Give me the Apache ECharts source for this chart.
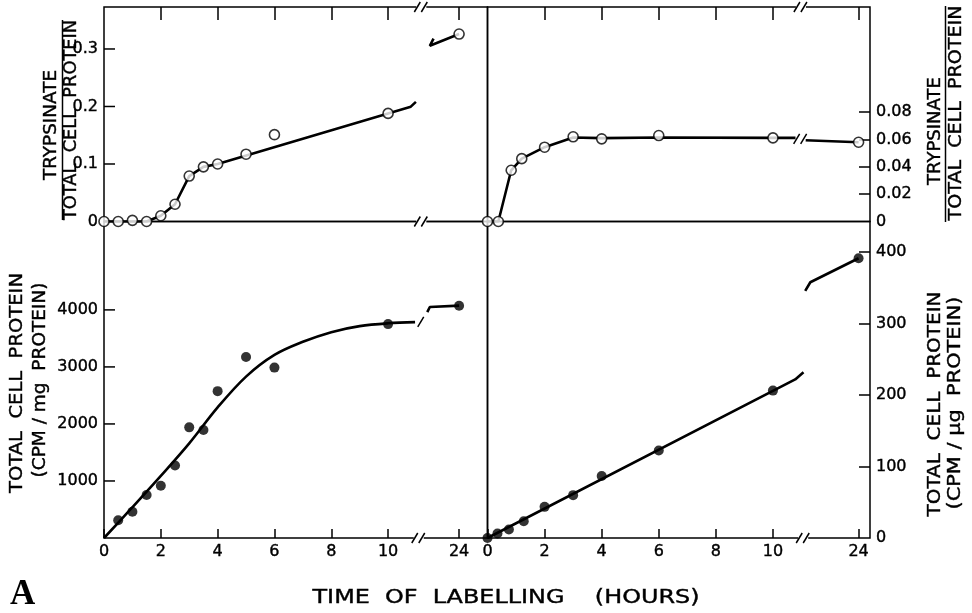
<!DOCTYPE html>
<html>
<head>
<meta charset="utf-8">
<script src="https://cdn.jsdelivr.net/npm/echarts@6/dist/echarts.min.js"></script>
<style>html,body{margin:0;padding:0;background:#fff}#c{width:972px;height:613px}</style>
</head>
<body>
<div id="c"></div>
<script>
// ---------- data ----------
const hourTickLabels = ['0','2','4','6','8','10','24'];
const hourTickHours  = [0,2,4,6,8,10,24];

// top-left: trypsinate / total cell protein (open circles)
const tlHours = [0,0.5,1,1.5,2,2.5,3,3.5,4,5,6,10,24];
const tlRatio = [0,0,0.002,0,0.01,0.03,0.079,0.095,0.1,0.117,0.151,0.188,0.326];
// top-right
const trHours = [0,0.38,0.83,1.2,2,3,4,6,10,24];
const trRatio = [0,0,0.0375,0.046,0.0544,0.062,0.0605,0.0629,0.0612,0.058];
// bottom-left: total cell protein CPM/mg protein (filled circles)
const blHours = [0.5,1,1.5,2,2.5,3,3.5,4,5,6,10,24];
const blCpm   = [312,459,753,917,1270,1940,1894,2575,3175,2988,3751,4074];
// bottom-right: total cell protein CPM/ug protein
const brHours = [0,0.35,0.75,1.27,2,3,4,6,10,24];
const brCpm   = [0,6.2,11.8,23.5,43.6,60,86.8,122.4,206.3,391.6];

// drawn curves (axis units; values beyond 10 lie in the broken part of the axis)
const tlFitA = [[0,0],[0.5,0],[1,0],[1.5,0],[2,0.01],[2.5,0.03],[3,0.079],[3.5,0.095],[4,0.1],[10.8,0.1997],[10.98,0.208]];
const tlFitB = [[11.6,0.318],[11.47,0.3056],[12.5,0.326]];
const trFitA = [[0,0],[0.38,0],[0.83,0.0375],[1.2,0.046],[2,0.0544],[3,0.0615],[4,0.061],[6,0.0615],[10,0.0612],[10.8,0.0612]];
const trFitB = [[11.13,0.0595],[13,0.058]];
const blFitA = [[0,0],[1,540],[2,1090],[3,1660],[4,2290],[5,2830],[6,3210],[7,3440],[8,3610],[9,3715],[10,3765],[10.95,3785]];
const blFitB = [[11.38,3960],[11.47,4050],[12.5,4074]];
const brFitA = [[0,0],[10.78,222],[11.07,232]];
const brFitB = [[11.13,346],[11.31,358],[13,391.6]];

const tlYTicks = [0,0.1,0.2,0.3];
const trYTicks = [0,0.02,0.04,0.06,0.08];
const blYTicks = [1000,2000,3000,4000];
const brYTicks = [0,100,200,300,400];

// ---------- layout ----------
const leftPos24 = 12.5, rightPos24 = 13;
const toPos = (h, p24) => h <= 10 ? h : p24;
const pairs = (xs, ys, p24) => xs.map((h, i) => [toPos(h, p24), ys[i]]);
const tickPos = p24 => hourTickHours.map(h => toPos(h, p24));

const FONT = 'DejaVu Sans';
const LBL = {color: '#000', fontFamily: FONT, fontSize: 16, textBorderColor: '#000', textBorderWidth: 0.4};
const chart = echarts.init(document.getElementById('c'), null, {renderer: 'canvas'});

function xAx(grid, pos, max, p24, withLabels) {
  const tp = tickPos(p24);
  return {
    type: 'value', gridIndex: grid, position: pos, min: 0, max: max,
    axisLine: {show: false, onZero: false}, splitLine: {show: false},
    axisTick: {show: true, inside: true, length: pos === 'top' ? 13 : 9,
      customValues: pos === 'top' ? tp.slice(1) : tp,
      lineStyle: {color: '#000', width: 1.5}},
    axisLabel: Object.assign({show: withLabels, customValues: tp, margin: 6,
      formatter: v => { const i = tp.findIndex(p => Math.abs(p - v) < 1e-9); return i >= 0 ? hourTickLabels[i] : ''; }}, LBL)
  };
}
// left axes: ticks drawn by a custom series (inside), labels by the axis
function yAx(grid, pos, max, ticks, labels, fmt) {
  return {
    type: 'value', gridIndex: grid, position: pos, min: 0, max: max,
    axisLine: {show: false, onZero: false}, splitLine: {show: false},
    axisTick: {show: pos === 'right', inside: true, length: 11, customValues: ticks,
      lineStyle: {color: '#000', width: 1.5}},
    axisLabel: Object.assign({show: true, customValues: labels, margin: 6, formatter: fmt}, LBL)
  };
}
function leftTicks(x, y, vals) {
  return {type: 'custom', xAxisIndex: x, yAxisIndex: y, data: vals.map(v => [0, v]), z: 5, silent: true,
    encode: {x: 0, y: 1},
    renderItem: (params, api) => {
      const p = api.coord([0, api.value(1)]);
      return {type: 'line', shape: {x1: p[0], y1: p[1], x2: p[0] + 11, y2: p[1]},
        style: {stroke: '#000', lineWidth: 1.5}};
    }};
}

function fitLine(x, y, data, smooth) {
  return {type: 'line', xAxisIndex: x, yAxisIndex: y, data: data, symbol: 'none',
    smooth: smooth || false, lineStyle: {color: '#000', width: 2.6}, z: 2, silent: true};
}
function dots(x, y, data, open) {
  return {type: 'scatter', xAxisIndex: x, yAxisIndex: y, data: data, symbol: 'circle', symbolSize: 10,
    itemStyle: open ? {color: '#fff', borderColor: '#000', borderWidth: 1.6} : {color: '#000'}, z: 4, silent: true};
}
function breaks(x, y, data) {
  return {type: 'custom', xAxisIndex: x, yAxisIndex: y, data: data, z: 6, silent: true,
    encode: {x: 0, y: 1},
    renderItem: (params, api) => {
      const p = api.coord([api.value(0), api.value(1)]);
      const n = api.value(2), clear = api.value(3);
      const ch = [];
      if (clear) ch.push({type: 'rect', shape: {x: p[0] - 5, y: p[1] - 3, width: 10, height: 6}, style: {fill: '#fff'}});
      const offs = n === 2 ? [-4, 3] : [0];
      offs.forEach(o => ch.push({type: 'line', shape: {x1: p[0] + o - 3, y1: p[1] + 5, x2: p[0] + o + 3, y2: p[1] - 5},
        style: {stroke: '#000', lineWidth: 1.5}}));
      return {type: 'group', children: ch};
    }};
}

const tlMax = 0.373, trMax = 0.157, blMax = 5550, brMax = 443;
const lMax = 13.5, rMax = 13.4;

const measure = (() => { const c = document.createElement('canvas').getContext('2d');
  return (t, font) => { c.font = font; return c.measureText(t).width; }; })();
function txt(t, cx, cy, len, size, rot) {
  const font = size + 'px "' + FONT + '"';
  const w = measure(t, font);
  return {type: 'text', x: cx, y: cy, rotation: rot ? Math.PI / 2 : 0, scaleX: len / w, silent: true,
    style: {text: t, font: font, fill: '#000', stroke: '#000', lineWidth: 0.4,
      textAlign: 'center', align: 'center', textVerticalAlign: 'middle', verticalAlign: 'middle'}};
}
const vbar = (x, y1, y2) => ({type: 'line', silent: true, shape: {x1: x, y1: y1, x2: x, y2: y2}, style: {stroke: '#000', lineWidth: 1.5}});

const gridStyle = {show: true, borderColor: '#000', borderWidth: 1.5, backgroundColor: 'transparent'};

chart.setOption({
  animation: false,
  backgroundColor: '#fff',
  grid: [
    Object.assign({left: 104, top: 7, width: 383.5, height: 214.5}, gridStyle),
    Object.assign({left: 487.5, top: 7, width: 382.5, height: 214.5}, gridStyle),
    Object.assign({left: 104, top: 221.5, width: 383.5, height: 316.5}, gridStyle),
    Object.assign({left: 487.5, top: 221.5, width: 382.5, height: 316.5}, gridStyle)
  ],
  xAxis: [
    xAx(0, 'top', lMax, leftPos24, false),
    xAx(1, 'top', rMax, rightPos24, false),
    xAx(2, 'bottom', lMax, leftPos24, true),
    xAx(3, 'bottom', rMax, rightPos24, true)
  ],
  yAxis: [
    yAx(0, 'left', tlMax, tlYTicks.slice(1), tlYTicks, v => v === 0 ? '0' : v.toFixed(1)),
    yAx(1, 'right', trMax, trYTicks.slice(1), trYTicks, v => v === 0 ? '0' : v.toFixed(2)),
    yAx(2, 'left', blMax, blYTicks, blYTicks, v => String(v)),
    yAx(3, 'right', brMax, brYTicks.slice(1), brYTicks, v => String(v))
  ],
  series: [
    fitLine(0, 0, tlFitA), fitLine(0, 0, tlFitB),
    dots(0, 0, pairs(tlHours, tlRatio, leftPos24), true),
    fitLine(1, 1, trFitA), fitLine(1, 1, trFitB),
    dots(1, 1, pairs(trHours, trRatio, rightPos24), true),
    fitLine(2, 2, blFitA, 0.35), fitLine(2, 2, blFitB),
    dots(2, 2, pairs(blHours, blCpm, leftPos24), false),
    fitLine(3, 3, brFitA), fitLine(3, 3, brFitB),
    dots(3, 3, pairs(brHours, brCpm, rightPos24), false),
    leftTicks(0, 0, tlYTicks.slice(1)),
    leftTicks(2, 2, blYTicks),
    breaks(0, 0, [[11.17, 0, 2, 1], [11.17, tlMax, 2, 1]]),
    breaks(1, 1, [[10.98, trMax, 2, 1], [10.97, 0.0605, 2, 1]]),
    breaks(2, 2, [[11.08, 0, 2, 1], [11.15, 3790, 1, 0]]),
    breaks(3, 3, [[11.06, 0, 2, 1]])
  ],
  graphic: [
    txt('TRYPSINATE', 51, 125, 110, 18, true),
    vbar(62.5, 20, 220),
    txt('TOTAL  CELL  PROTEIN', 71, 120, 200, 18, true),
    txt('TRYPSINATE', 935, 131, 108, 18, true),
    vbar(945.5, 6, 222),
    txt('TOTAL  CELL  PROTEIN', 956, 113, 215, 18, true),
    txt('TOTAL  CELL  PROTEIN', 17, 383, 220, 18, true),
    txt('(CPM / mg  PROTEIN)', 40, 380, 195, 18, true),
    txt('TOTAL  CELL  PROTEIN', 935, 404, 225, 18, true),
    txt('(CPM / μg  PROTEIN)', 955, 403, 213, 18, true),
    txt('TIME  OF  LABELLING    (HOURS)', 506, 598, 387, 19, false),
    {type: 'text', x: 10, y: 595, silent: true,
      style: {text: 'A', font: 'bold 35px "Liberation Serif"', fill: '#000', textAlign: 'left', align: 'left',
        textVerticalAlign: 'middle', verticalAlign: 'middle'}}
  ]
});
</script>
</body>
</html>
